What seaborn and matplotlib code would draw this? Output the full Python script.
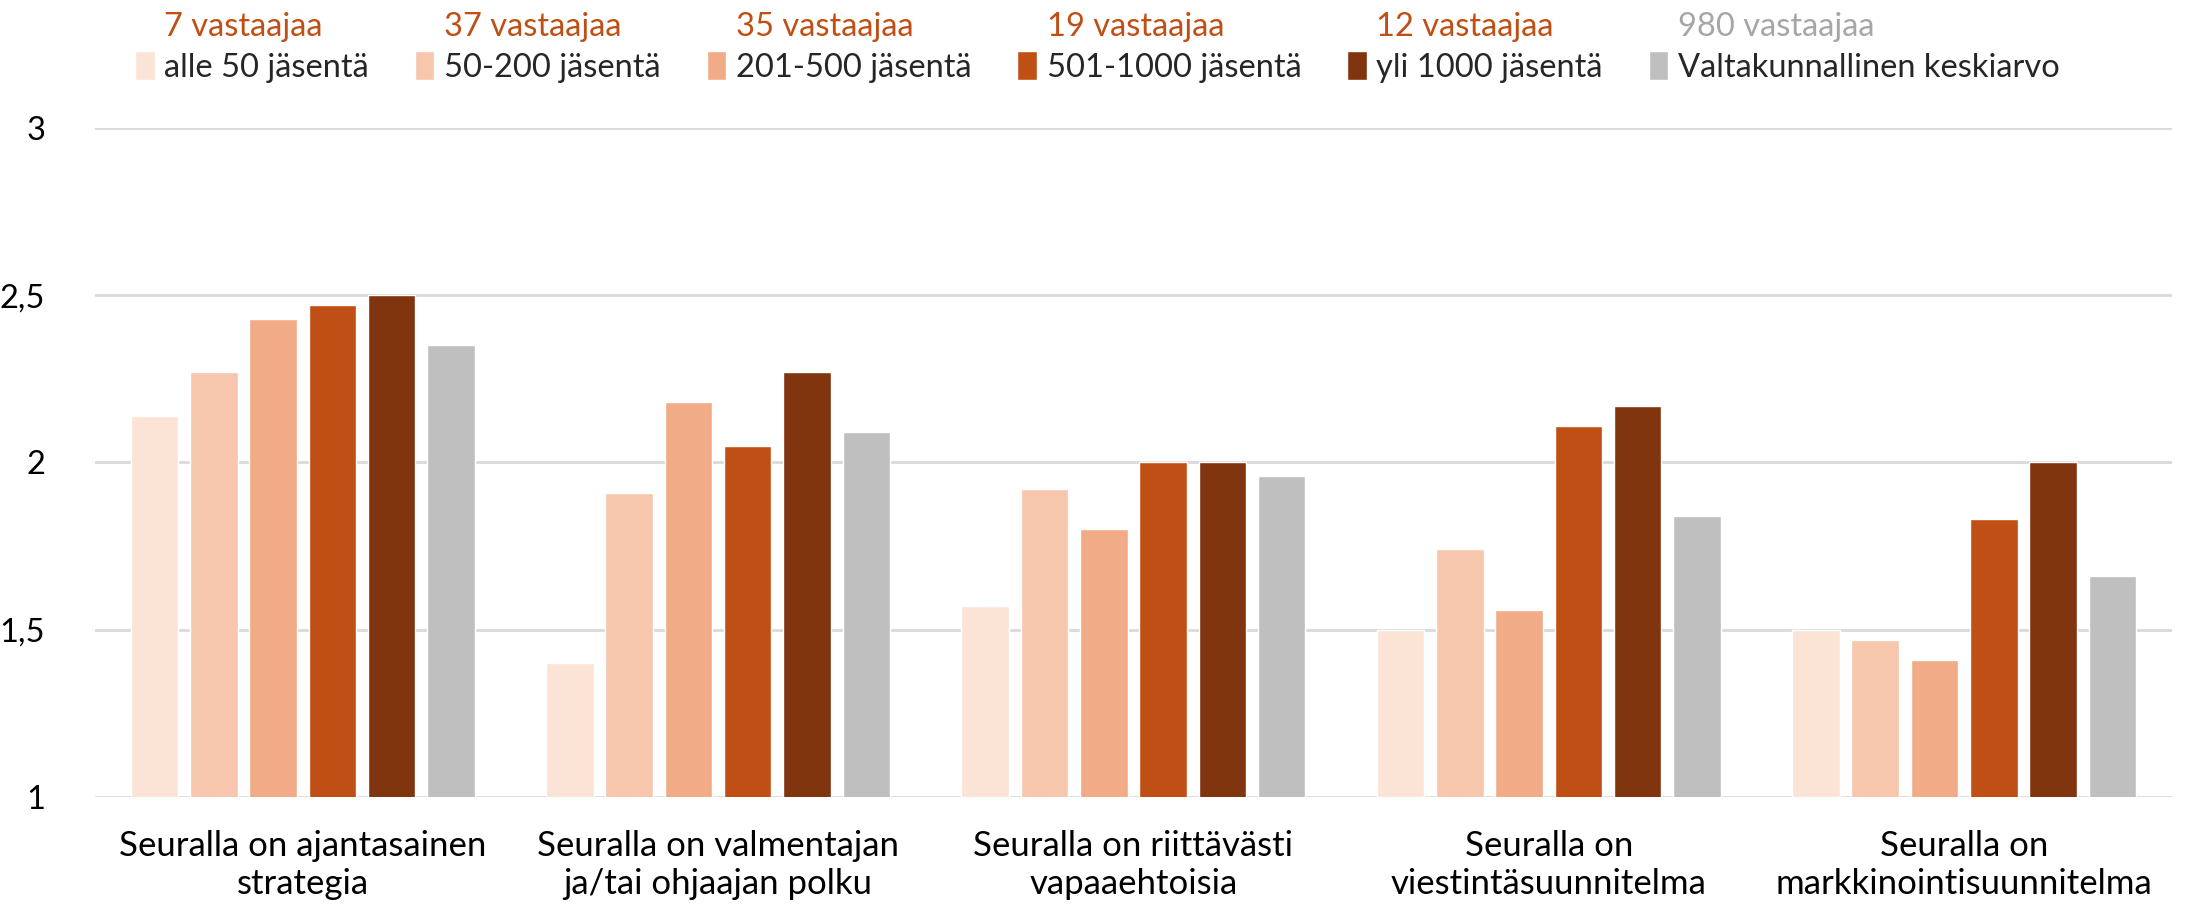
import matplotlib
matplotlib.use("Agg")
import matplotlib.pyplot as plt
import seaborn as sns
import pandas as pd

categories = [
    "Seuralla on ajantasainen\nstrategia",
    "Seuralla on valmentajan\nja/tai ohjaajan polku",
    "Seuralla on riittävästi\nvapaaehtoisia",
    "Seuralla on\nviestintäsuunnitelma",
    "Seuralla on\nmarkkinointisuunnitelma",
]
series_names = ["alle 50 jäsentä", "50-200 jäsentä", "201-500 jäsentä",
                "501-1000 jäsentä", "yli 1000 jäsentä", "Valtakunnallinen keskiarvo"]
respondents = ["7 vastaajaa", "37 vastaajaa", "35 vastaajaa",
               "19 vastaajaa", "12 vastaajaa", "980 vastaajaa"]
alle50 = [2.14, 1.40, 1.57, 1.50, 1.50]
s50_200 = [2.27, 1.91, 1.92, 1.74, 1.47]
s201_500 = [2.43, 2.18, 1.80, 1.56, 1.41]
s501_1000 = [2.47, 2.05, 2.00, 2.11, 1.83]
yli1000 = [2.50, 2.27, 2.00, 2.17, 2.00]
national = [2.35, 2.09, 1.96, 1.84, 1.66]
yticks = [1, 1.5, 2, 2.5, 3]
ytick_labels = ["1", "1,5", "2", "2,5", "3"]

colors = ["#FBE3D6", "#F6C6AD", "#F1AB86", "#C04F15", "#80350E", "#BFBFBF"]
count_colors = ["#C04F15"] * 5 + ["#A6A6A6"]

all_series = [alle50, s50_200, s201_500, s501_1000, yli1000, national]
rows = []
for name, vals in zip(series_names, all_series):
    for cat, v in zip(categories, vals):
        rows.append({"cat": cat, "series": name, "value": v})
df = pd.DataFrame(rows)

sns.set_theme(style="white")
plt.rcParams["font.family"] = ["Lato", "DejaVu Sans"]

fig = plt.figure(figsize=(21.86, 9.09), dpi=100)
ax = fig.add_axes([0.0435, 0.1232, 0.95, 0.736])

sns.barplot(data=df, x="cat", y="value", hue="series", palette=colors,
            hue_order=series_names, order=categories, width=0.857, gap=0.2,
            ax=ax, saturation=1)

ax.set_ylim(1, 3)
ax.set_yticks(yticks)
ax.set_yticklabels(ytick_labels, fontsize=23.5, color="#000000")
ax.tick_params(axis="y", length=0, pad=36)
ax.tick_params(axis="x", length=0, pad=24, labelsize=25, labelcolor="#000000")
for t in ax.get_xticklabels():
    t.set_linespacing(1.2)
ax.set_xlabel("")
ax.set_ylabel("")
ax.yaxis.grid(True, color="#D9D9D9", linewidth=2)
ax.set_axisbelow(True)
for s in ax.spines.values():
    s.set_visible(False)
ax.set_xlim(-0.5, 4.5)

sns.move_legend(ax, "upper left", bbox_to_anchor=(0.0558, 0.958),
                bbox_transform=fig.transFigure, ncol=6, frameon=False,
                title=None, fontsize=23.5, handlelength=0.6, handleheight=1.0,
                handletextpad=0.3, columnspacing=1.4, borderaxespad=0)
leg = ax.get_legend()

fig.canvas.draw()
renderer = fig.canvas.get_renderer()
inv = fig.transFigure.inverted()
for txt, lab, col in zip(leg.get_texts(), respondents, count_colors):
    bb = txt.get_window_extent(renderer)
    (x0, y0), (x1, y1) = inv.transform([[bb.x0, bb.y0], [bb.x1, bb.y1]])
    fig.text(x0, y1 + 0.012, lab, color=col, fontsize=23.5, ha="left", va="bottom")

fig.savefig("out.png", dpi=100)
